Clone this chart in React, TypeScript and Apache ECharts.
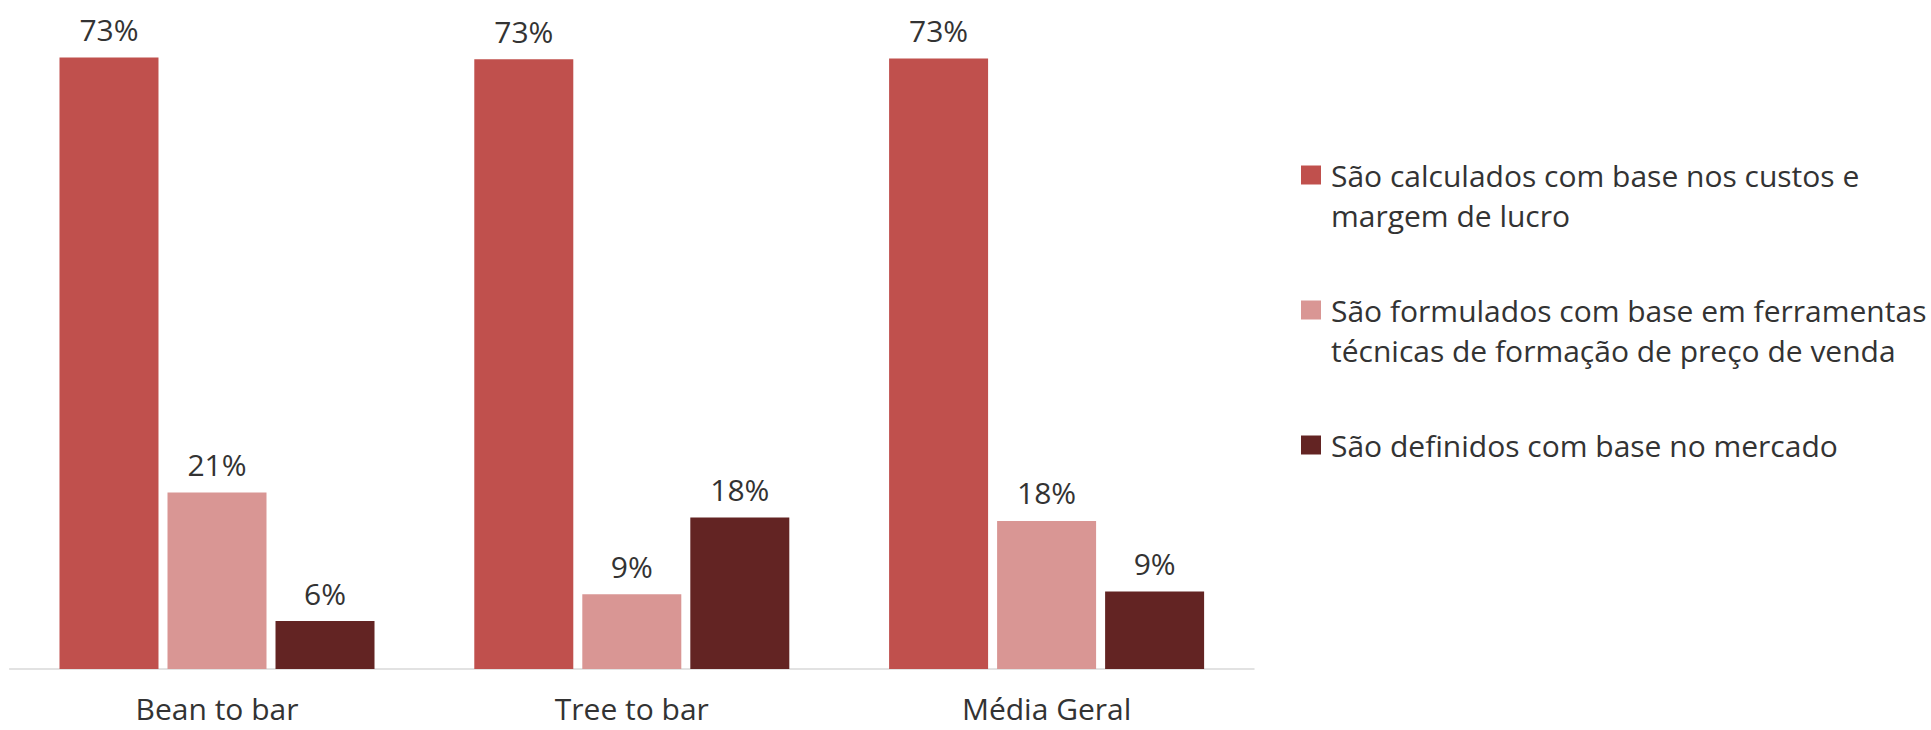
import React, { useEffect, useRef } from "react";
import * as echarts from "echarts";

const categories = ["Bean to bar", "Tree to bar", "Média Geral"];
const seriesNames = [
  "São calculados com base nos custos e margem de lucro",
  "São formulados com base em ferramentas técnicas de formação de preço de venda",
  "São definidos com base no mercado",
];
const legendLines: string[][] = [
  ["São calculados com base nos custos e", "margem de lucro"],
  ["São formulados com base em ferramentas", "técnicas de formação de preço de venda"],
  ["São definidos com base no mercado"],
];
const custosMargem = [72.7, 72.5, 72.6];
const ferramentas = [21.0, 8.9, 17.6];
const mercado = [5.7, 18.0, 9.2];
const colors = ["#C0504D", "#D99694", "#632423"];

const FONT = "'Open Sans', 'Noto Sans', sans-serif";
const TEXT = "#333333";

export default function App() {
  const ref = useRef<HTMLDivElement>(null);
  useEffect(() => {
    if (!ref.current) return;
    const chart = echarts.init(ref.current, null, { renderer: "svg" });
    const values = [custosMargem, ferramentas, mercado];
    chart.setOption({
      animation: false,
      backgroundColor: "#ffffff",
      textStyle: { fontFamily: FONT },
      grid: { left: 9.6, right: 677, top: 38.2, bottom: 61, containLabel: false },
      legend: {
        orient: "vertical",
        left: 1301,
        top: 115,
        padding: 0,
        itemGap: 15,
        itemWidth: 20,
        itemHeight: 19,
        icon: "rect",
        selectedMode: false,
        data: seriesNames,
        formatter: (name: string) => {
          const i = seriesNames.indexOf(name);
          const lines = legendLines[i];
          return lines.length > 1 ? "\n" + lines.join("\n") : "\n" + lines[0] + "\n";
        },
        textStyle: {
          fontFamily: FONT,
          fontSize: 30,
          color: TEXT,
          lineHeight: 40,
          padding: [0, 0, 0, 5],
        },
      },
      xAxis: {
        type: "category",
        data: categories,
        axisLine: { show: true, lineStyle: { color: "#D9D9D9", width: 1.5 } },
        axisTick: { show: false },
        axisLabel: {
          fontFamily: FONT,
          fontSize: 30,
          lineHeight: 20,
          color: TEXT,
          margin: 29,
        },
      },
      yAxis: {
        type: "value",
        min: 0,
        max: 75,
        show: false,
        splitLine: { show: false },
      },
      series: values.map((v, i) => ({
        name: seriesNames[i],
        type: "bar",
        data: v,
        barWidth: 99,
        barGap: "9.1%",
        itemStyle: { color: colors[i] },
        label: {
          show: true,
          position: "top",
          distance: 13,
          fontFamily: FONT,
          fontSize: 30,
          color: TEXT,
          formatter: (p: any) => Math.round(p.value) + "%",
        },
      })),
    });
    return () => chart.dispose();
  }, []);
  return (
    <div
      ref={ref}
      style={{ position: "fixed", left: 0, top: 0, width: 1931, height: 730 }}
    />
  );
}
